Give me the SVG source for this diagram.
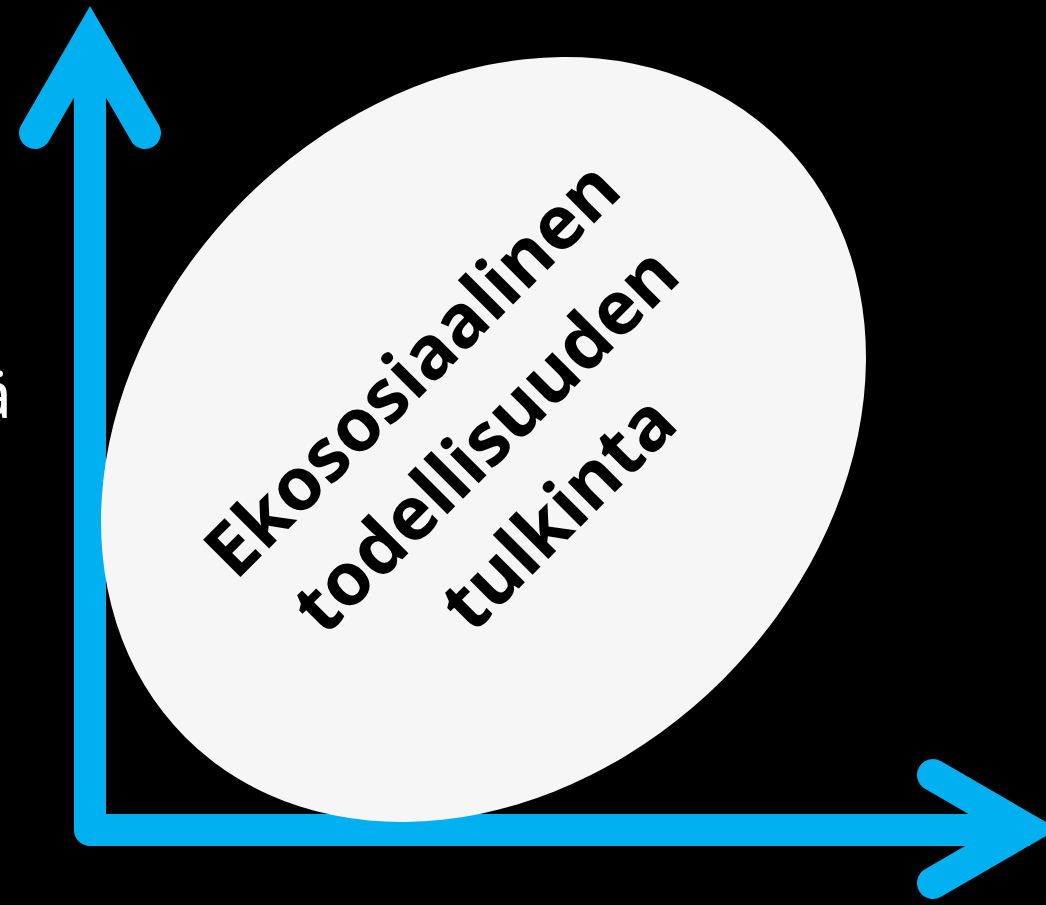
<svg xmlns="http://www.w3.org/2000/svg" width="1046" height="905" viewBox="0 0 1046 905">
<style>
.axis{fill:none;stroke:#00B0F0;stroke-width:32}
.lbl{font-family:"Noto Sans","Open Sans","Liberation Sans",sans-serif;font-weight:700;font-size:74px;fill:#000;text-anchor:middle}
.side{font-family:"Noto Sans","Liberation Sans",sans-serif;font-size:65px;fill:#fff;text-anchor:end}
</style>
<rect width="1046" height="905" fill="#000"/>
<g id="side-label"><text class="side" x="12" y="418">ä</text></g>
<g id="connectors">
<path class="axis" d="M90,40 V830 H1030" stroke-linejoin="round"/>
<polyline class="axis" points="35,133 90,38 145,133" stroke-linecap="round" stroke-linejoin="miter" stroke-miterlimit="10"/>
<polyline class="axis" points="933,775 1026,829 933,883" stroke-linecap="round" stroke-linejoin="miter" stroke-miterlimit="10"/>
</g>
<g id="ellipse-node">
<ellipse cx="483.5" cy="439.5" rx="421.5" ry="339" transform="rotate(-45 483.5 439.5)" fill="#F6F6F6"/>
<g transform="rotate(-45)">
<text class="lbl" x="30" y="578">Ekososiaalinen</text>
<text class="lbl" x="32" y="680">todellisuuden</text>
<text class="lbl" x="32" y="783">tulkinta</text>
</g>
</g>
</svg>
